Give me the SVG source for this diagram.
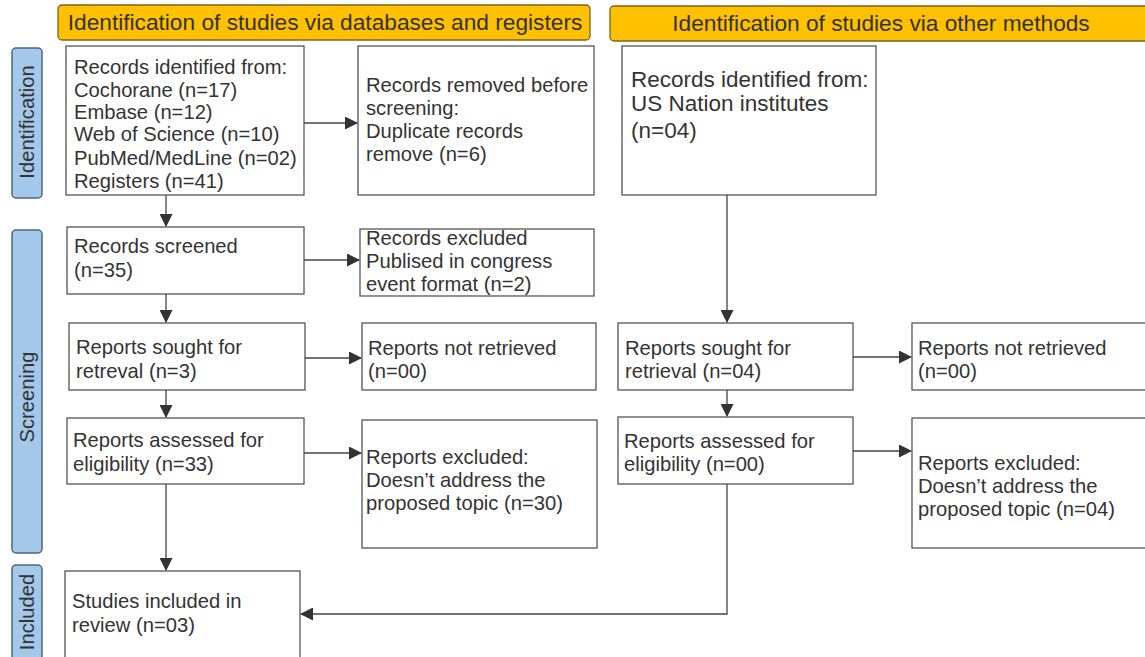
<svg xmlns="http://www.w3.org/2000/svg" width="1145" height="657" viewBox="0 0 1145 657">
<defs>
<marker id="ah" markerWidth="13" markerHeight="13" refX="12" refY="6.5" orient="auto" markerUnits="userSpaceOnUse">
<path d="M0,0 L13,6.5 L0,13 Z" fill="#333"/>
</marker>
<style>
.box{fill:#fff;stroke:#555;stroke-width:1.3}
.hdr{fill:#ffc000;stroke:#7a6420;stroke-width:1.3}
.side{fill:#a4c8ea;stroke:#4d6680;stroke-width:1.5}
.t{font-family:"Liberation Sans",Arial,sans-serif;font-size:20.2px;fill:#333}
.tl{font-family:"Liberation Sans",Arial,sans-serif;font-size:22.5px;fill:#333}
.th{font-family:"Liberation Sans",Arial,sans-serif;font-size:22.7px;fill:#333}
.c{fill:none;stroke:#444;stroke-width:1.3}
</style>
</defs>
<rect width="1145" height="657" fill="#fff"/>

<g id="header-db"><rect class="hdr" x="58" y="5" width="532" height="35" rx="4"/><text class="th" x="325" y="30" text-anchor="middle">Identification of studies via databases and registers</text></g>
<g id="header-other"><rect class="hdr" x="610" y="6" width="545" height="35" rx="4"/><text class="th" x="881" y="31" text-anchor="middle">Identification of studies via other methods</text></g>

<g id="side-identification"><rect class="side" x="12" y="48" width="30" height="150" rx="4"/><text class="t" transform="translate(34,122) rotate(-90)" text-anchor="middle">Identification</text></g>
<g id="side-screening"><rect class="side" x="12" y="230" width="30" height="323" rx="4"/><text class="t" transform="translate(34,397) rotate(-90)" text-anchor="middle">Screening</text></g>
<g id="side-included"><rect class="side" x="12" y="565" width="30" height="100" rx="4"/><text class="t" transform="translate(34,612) rotate(-90)" text-anchor="middle">Included</text></g>

<g id="records-identified"><rect class="box" x="66" y="46" width="238" height="149"/>
<text class="t" x="74" y="74">Records identified from:</text>
<text class="t" x="74" y="97">Cochorane (n=17)</text>
<text class="t" x="74" y="119">Embase (n=12)</text>
<text class="t" x="74" y="141">Web of Science (n=10)</text>
<text class="t" x="74" y="165">PubMed/MedLine (n=02)</text>
<text class="t" x="74" y="188">Registers (n=41)</text></g>

<g id="records-removed"><rect class="box" x="358" y="46" width="236" height="149"/>
<text class="t" x="366" y="92">Records removed before</text>
<text class="t" x="366" y="115">screening:</text>
<text class="t" x="366" y="138">Duplicate records</text>
<text class="t" x="366" y="161">remove (n=6)</text></g>

<g id="records-other"><rect class="box" x="622" y="46" width="254" height="149"/>
<text class="tl" x="631" y="87">Records identified from:</text>
<text class="tl" x="631" y="111">US Nation institutes</text>
<text class="tl" x="631" y="138">(n=04)</text></g>

<g id="records-screened"><rect class="box" x="67" y="227" width="237" height="67"/>
<text class="t" x="74" y="253">Records screened</text>
<text class="t" x="74" y="277">(n=35)</text></g>

<g id="records-excluded"><rect class="box" x="360" y="229" width="234" height="67"/>
<text class="t" x="366" y="245">Records excluded</text>
<text class="t" x="366" y="268">Publised in congress</text>
<text class="t" x="366" y="291">event format (n=2)</text></g>

<g id="reports-sought"><rect class="box" x="69" y="323" width="236" height="67"/>
<text class="t" x="76" y="354">Reports sought for</text>
<text class="t" x="76" y="378">retreval (n=3)</text></g>

<g id="reports-not-retrieved"><rect class="box" x="362" y="323" width="234" height="67"/>
<text class="t" x="368" y="355">Reports not retrieved</text>
<text class="t" x="368" y="378">(n=00)</text></g>

<g id="reports-assessed"><rect class="box" x="67" y="418" width="237" height="66"/>
<text class="t" x="73" y="447">Reports assessed for</text>
<text class="t" x="73" y="471">eligibility (n=33)</text></g>

<g id="reports-excluded"><rect class="box" x="362" y="420" width="235" height="128"/>
<text class="t" x="366" y="464">Reports excluded:</text>
<text class="t" x="366" y="487">Doesn’t address the</text>
<text class="t" x="366" y="510">proposed topic (n=30)</text></g>

<g id="studies-included"><rect class="box" x="65" y="571" width="235" height="100"/>
<text class="t" x="72" y="608">Studies included in</text>
<text class="t" x="72" y="632">review (n=03)</text></g>

<g id="reports-sought-other"><rect class="box" x="618" y="323" width="235" height="67"/>
<text class="t" x="625" y="355">Reports sought for</text>
<text class="t" x="625" y="378">retrieval (n=04)</text></g>

<g id="reports-not-retrieved-other"><rect class="box" x="912" y="323" width="240" height="67"/>
<text class="t" x="918" y="355">Reports not retrieved</text>
<text class="t" x="918" y="378">(n=00)</text></g>

<g id="reports-assessed-other"><rect class="box" x="618" y="417" width="235" height="67"/>
<text class="t" x="624" y="448">Reports assessed for</text>
<text class="t" x="624" y="471">eligibility (n=00)</text></g>

<g id="reports-excluded-other"><rect class="box" x="912" y="418" width="240" height="130"/>
<text class="t" x="918" y="470">Reports excluded:</text>
<text class="t" x="918" y="493">Doesn’t address the</text>
<text class="t" x="918" y="516">proposed topic (n=04)</text></g>

<g id="connectors">
<path class="c" d="M304,123 H357" marker-end="url(#ah)"/>
<path class="c" d="M166,195 V226" marker-end="url(#ah)"/>
<path class="c" d="M304,260 H359" marker-end="url(#ah)"/>
<path class="c" d="M166,294 V322" marker-end="url(#ah)"/>
<path class="c" d="M305,358 H361" marker-end="url(#ah)"/>
<path class="c" d="M166,390 V417" marker-end="url(#ah)"/>
<path class="c" d="M304,453 H361" marker-end="url(#ah)"/>
<path class="c" d="M166,484 V570" marker-end="url(#ah)"/>
<path class="c" d="M727,195 V322" marker-end="url(#ah)"/>
<path class="c" d="M853,357 H911" marker-end="url(#ah)"/>
<path class="c" d="M727,390 V416" marker-end="url(#ah)"/>
<path class="c" d="M853,451 H911" marker-end="url(#ah)"/>
<path class="c" d="M727,484 V614 H301" marker-end="url(#ah)"/>
</g>
</svg>
